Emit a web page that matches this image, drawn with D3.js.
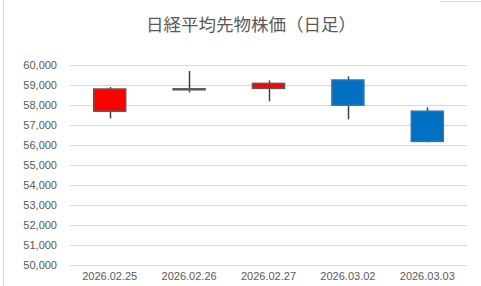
<!DOCTYPE html>
<html>
<head>
<meta charset="utf-8">
<script src="https://cdn.jsdelivr.net/npm/d3@7"></script>
<style>
  body { margin: 0; background: #fff; }
  svg { display: block; font-family: "Noto Sans CJK JP", "Liberation Sans", sans-serif; }
</style>
</head>
<body>
<div id="chart"></div>
<script>
// 日経平均先物 daily candles
const dates = ['2026.02.25', '2026.02.26', '2026.02.27', '2026.03.02', '2026.03.03'];
const opens = [57690, 58810, 58830, 59250, 57690];
const highs = [58900, 59700, 59230, 59430, 57880];
const lows = [57330, 58630, 58190, 57280, 56130];
const closes = [58800, 58810, 59080, 57990, 56180];
const yTicks = [50000, 51000, 52000, 53000, 54000, 55000, 56000, 57000, 58000, 59000, 60000];

const width = 481, height = 286;
const margin = {left: 70, right: 14, top: 65, bottom: 21};

const svg = d3.select('#chart').append('svg')
    .attr('width', width)
    .attr('height', height);

// spreadsheet cell edge showing at the left
svg.append('line')
    .attr('x1', 3.5).attr('x2', 3.5)
    .attr('y1', 0).attr('y2', height)
    .attr('stroke', '#d9d9d9');
svg.append('line')
    .attr('x1', 440).attr('x2', width)
    .attr('y1', 1.5).attr('y2', 1.5)
    .attr('stroke', '#d9d9d9');

const x = d3.scaleBand()
    .domain(dates)
    .range([margin.left, width - margin.right]);

const y = d3.scaleLinear()
    .domain([50000, 60000])
    .range([height - margin.bottom, margin.top]);

// gridlines
svg.append('g')
    .selectAll('line')
    .data(yTicks)
    .join('line')
    .attr('x1', margin.left)
    .attr('x2', width - margin.right)
    .attr('y1', d => Math.round(y(d)) + 0.5)
    .attr('y2', d => Math.round(y(d)) + 0.5)
    .attr('stroke', '#d9d9d9')
    .attr('stroke-width', 1);

// y axis labels
const yAxis = svg.append('g')
    .attr('transform', 'translate(' + (margin.left - 13) + ',0)')
    .call(d3.axisLeft(y).tickValues(yTicks).tickFormat(d3.format(',')).tickSize(0).tickPadding(0));
yAxis.select('.domain').remove();
yAxis.selectAll('text')
    .attr('fill', '#595959')
    .attr('font-size', '11px')
    .attr('font-family', '"Liberation Sans", sans-serif');

// x axis labels
const xAxis = svg.append('g')
    .attr('transform', 'translate(0,' + (height - margin.bottom) + ')')
    .call(d3.axisBottom(x).tickSize(0).tickPadding(7));
xAxis.select('.domain').remove();
xAxis.selectAll('text')
    .attr('fill', '#595959')
    .attr('font-size', '11px')
    .attr('font-family', '"Liberation Sans", sans-serif');

const candles = dates.map((d, i) => ({
    date: d, open: opens[i], high: highs[i], low: lows[i], close: closes[i]
}));

const bodyW = 32;
const g = svg.append('g');

// wicks
g.selectAll('.wick')
    .data(candles)
    .join('line')
    .attr('class', 'wick')
    .attr('x1', d => Math.round(x(d.date) + x.bandwidth() / 2) + 0.5)
    .attr('x2', d => Math.round(x(d.date) + x.bandwidth() / 2) + 0.5)
    .attr('y1', d => y(d.high))
    .attr('y2', d => y(d.low))
    .attr('stroke', '#404040')
    .attr('stroke-width', 1.5);

// bodies
g.selectAll('.body')
    .data(candles)
    .join('rect')
    .attr('class', 'body')
    .attr('x', d => x(d.date) + x.bandwidth() / 2 - bodyW / 2)
    .attr('y', d => y(Math.max(d.open, d.close)))
    .attr('width', bodyW)
    .attr('height', d => Math.max(1, Math.abs(y(d.open) - y(d.close))))
    .attr('fill', d => d.close > d.open ? '#ff0000' : (d.close < d.open ? '#0070c0' : '#595959'))
    .attr('stroke', d => d.close >= d.open ? '#595959' : '#2e75b6')
    .attr('stroke-width', 1.5);

// title
svg.append('text')
    .attr('x', 251)
    .attr('y', 31)
    .attr('text-anchor', 'middle')
    .attr('fill', '#595959')
    .attr('font-size', '17.5px')
    .text('日経平均先物株価（日足）');
</script>
</body>
</html>
